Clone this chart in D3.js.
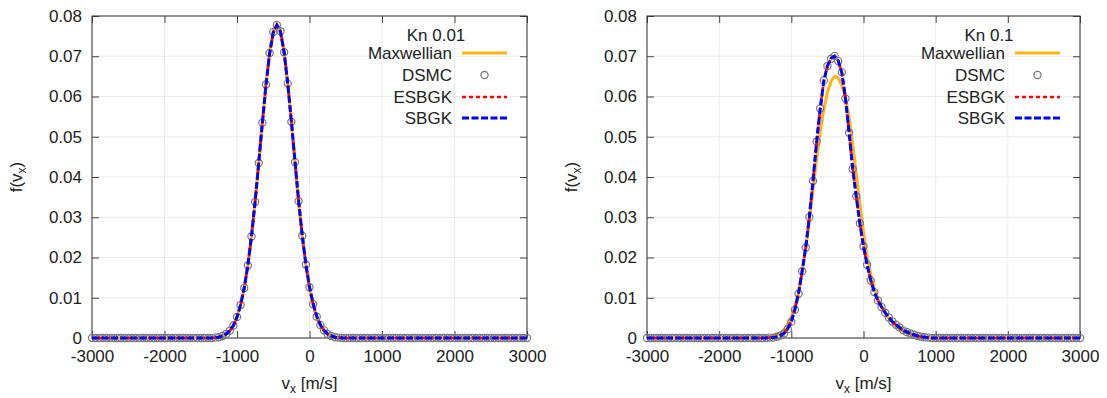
<!DOCTYPE html>
<html>
<head>
<meta charset="utf-8">
<script src="https://cdn.jsdelivr.net/npm/d3@7"></script>
<style>
  body { margin: 0; background: #fff; }
  text { font-family: "Liberation Sans", Arial, Helvetica, sans-serif; fill: #222; }
</style>
</head>
<body>
<script>
// velocity bins (m/s)
const vx = [
  -3000,-2950,-2900,-2850,-2800,-2750,-2700,-2650,-2600,-2550,
  -2500,-2450,-2400,-2350,-2300,-2250,-2200,-2150,-2100,-2050,
  -2000,-1950,-1900,-1850,-1800,-1750,-1700,-1650,-1600,-1550,
  -1500,-1450,-1400,-1350,-1300,-1250,-1200,-1150,-1100,-1050,
  -1000,-950,-900,-850,-800,-750,-700,-650,-600,-550,
  -500,-450,-400,-350,-300,-250,-200,-150,-100,-50,
  0,50,100,150,200,250,300,350,400,450,
  500,550,600,650,700,750,800,850,900,950,
  1000,1050,1100,1150,1200,1250,1300,1350,1400,1450,
  1500,1550,1600,1650,1700,1750,1800,1850,1900,1950,
  2000,2050,2100,2150,2200,2250,2300,2350,2400,2450,
  2500,2550,2600,2650,2700,2750,2800,2850,2900,2950,
  3000];

// Kn 0.01
const maxwell001 = [
  0,0,0,0,0,0,0,0,0,0,
  0,0,0,0,0,0,0,0,0,0,
  0,0,0,0,0,0,0,0,0,0,
  0,0,0,0,0.0001,0.0002,0.0005,0.0009,0.0017,0.0030,
  0.0051,0.0081,0.0123,0.0179,0.0251,0.0337,0.0435,0.0536,0.0632,0.0711,
  0.0764,0.0781,0.0764,0.0711,0.0632,0.0536,0.0435,0.0337,0.0251,0.0179,
  0.0123,0.0081,0.0051,0.0030,0.0017,0.0009,0.0005,0.0002,0.0001,0,
  0,0,0,0,0,0,0,0,0,0,
  0,0,0,0,0,0,0,0,0,0,
  0,0,0,0,0,0,0,0,0,0,
  0,0,0,0,0,0,0,0,0,0,
  0,0,0,0,0,0,0,0,0,0,
  0];
const dsmc001 = [
  0,0,0,0,0,0,0,0,0,0,
  0,0,0,0,0,0,0,0,0,0,
  0,0,0,0,0,0,0,0,0,0,
  0,0,0,0,0.0001,0.0002,0.0005,0.0010,0.0018,0.0031,
  0.0052,0.0082,0.0124,0.0180,0.0252,0.0338,0.0435,0.0535,0.0630,0.0708,
  0.0760,0.0778,0.0762,0.0710,0.0632,0.0537,0.0437,0.0340,0.0254,0.0182,
  0.0126,0.0084,0.0053,0.0032,0.0019,0.0010,0.0005,0.0002,0.0001,0,
  0,0,0,0,0,0,0,0,0,0,
  0,0,0,0,0,0,0,0,0,0,
  0,0,0,0,0,0,0,0,0,0,
  0,0,0,0,0,0,0,0,0,0,
  0,0,0,0,0,0,0,0,0,0,
  0];
const esbgk001 = [
  0,0,0,0,0,0,0,0,0,0,
  0,0,0,0,0,0,0,0,0,0,
  0,0,0,0,0,0,0,0,0,0,
  0,0,0,0,0.0001,0.0002,0.0005,0.0010,0.0018,0.0031,
  0.0052,0.0082,0.0125,0.0181,0.0253,0.0339,0.0436,0.0535,0.0629,0.0706,
  0.0758,0.0776,0.0761,0.0710,0.0633,0.0538,0.0438,0.0341,0.0255,0.0183,
  0.0127,0.0085,0.0054,0.0033,0.0019,0.0010,0.0005,0.0002,0.0001,0,
  0,0,0,0,0,0,0,0,0,0,
  0,0,0,0,0,0,0,0,0,0,
  0,0,0,0,0,0,0,0,0,0,
  0,0,0,0,0,0,0,0,0,0,
  0,0,0,0,0,0,0,0,0,0,
  0];
const sbgk001 = [
  0,0,0,0,0,0,0,0,0,0,
  0,0,0,0,0,0,0,0,0,0,
  0,0,0,0,0,0,0,0,0,0,
  0,0,0,0,0.0001,0.0002,0.0005,0.0010,0.0018,0.0031,
  0.0052,0.0083,0.0125,0.0181,0.0253,0.0339,0.0436,0.0535,0.0629,0.0707,
  0.0759,0.0777,0.0761,0.0709,0.0632,0.0538,0.0438,0.0341,0.0255,0.0183,
  0.0127,0.0085,0.0054,0.0033,0.0019,0.0010,0.0005,0.0002,0.0001,0,
  0,0,0,0,0,0,0,0,0,0,
  0,0,0,0,0,0,0,0,0,0,
  0,0,0,0,0,0,0,0,0,0,
  0,0,0,0,0,0,0,0,0,0,
  0,0,0,0,0,0,0,0,0,0,
  0];

// Kn 0.1
const maxwell01 = [
  0,0,0,0,0,0,0,0,0,0,
  0,0,0,0,0,0,0,0,0,0,
  0,0,0,0,0,0,0,0,0,0,
  0,0,0.0001,0.0002,0.0003,0.0005,0.0008,0.0013,0.0021,0.0034,
  0.0053,0.0080,0.0115,0.0163,0.0222,0.0292,0.0368,0.0443,0.0512,0.0568,
  0.0610,0.0638,0.0650,0.0646,0.0628,0.0598,0.0548,0.0482,0.0408,0.0334,
  0.0264,0.0203,0.0158,0.0123,0.0097,0.0078,0.0062,0.0049,0.0038,0.0029,
  0.0022,0.0016,0.0012,0.0009,0.0006,0.0004,0.0002,0.0001,0.0001,0,
  0,0,0,0,0,0,0,0,0,0,
  0,0,0,0,0,0,0,0,0,0,
  0,0,0,0,0,0,0,0,0,0,
  0,0,0,0,0,0,0,0,0,0,
  0];
const dsmc01 = [
  0,0,0,0,0,0,0,0,0,0,
  0,0,0,0,0,0,0,0,0,0,
  0,0,0,0,0,0,0,0,0,0,
  0,0,0,0,0.0001,0.0001,0.0003,0.0006,0.0011,0.0022,
  0.0040,0.0070,0.0110,0.0166,0.0225,0.0300,0.0390,0.0488,0.0570,0.0640,
  0.0676,0.0694,0.0701,0.0688,0.0660,0.0595,0.0510,0.0420,0.0352,0.0285,
  0.0228,0.0182,0.0143,0.0114,0.0093,0.0077,0.0063,0.0051,0.0041,0.0033,
  0.0026,0.0019,0.0015,0.0011,0.0008,0.0005,0.0003,0.0002,0.0001,0,
  0,0,0,0,0,0,0,0,0,0,
  0,0,0,0,0,0,0,0,0,0,
  0,0,0,0,0,0,0,0,0,0,
  0,0,0,0,0,0,0,0,0,0,
  0];
const esbgk01 = [
  0,0,0,0,0,0,0,0,0,0,
  0,0,0,0,0,0,0,0,0,0,
  0,0,0,0,0,0,0,0,0,0,
  0,0,0,0,0.0001,0.0001,0.0003,0.0006,0.0012,0.0023,
  0.0041,0.0071,0.0111,0.0166,0.0226,0.0301,0.0390,0.0487,0.0569,0.0638,
  0.0675,0.0694,0.0700,0.0689,0.0659,0.0596,0.0511,0.0421,0.0351,0.0284,
  0.0228,0.0181,0.0143,0.0114,0.0093,0.0077,0.0063,0.0051,0.0041,0.0033,
  0.0026,0.0019,0.0015,0.0011,0.0008,0.0005,0.0003,0.0002,0.0001,0,
  0,0,0,0,0,0,0,0,0,0,
  0,0,0,0,0,0,0,0,0,0,
  0,0,0,0,0,0,0,0,0,0,
  0,0,0,0,0,0,0,0,0,0,
  0];
const sbgk01 = [
  0,0,0,0,0,0,0,0,0,0,
  0,0,0,0,0,0,0,0,0,0,
  0,0,0,0,0,0,0,0,0,0,
  0,0,0,0,0.0001,0.0001,0.0003,0.0006,0.0012,0.0023,
  0.0041,0.0071,0.0111,0.0167,0.0226,0.0301,0.0391,0.0487,0.0569,0.0639,
  0.0676,0.0695,0.0700,0.0689,0.0659,0.0595,0.0511,0.0421,0.0351,0.0284,
  0.0228,0.0181,0.0143,0.0114,0.0093,0.0077,0.0063,0.0051,0.0041,0.0033,
  0.0026,0.0019,0.0015,0.0011,0.0008,0.0005,0.0003,0.0002,0.0001,0,
  0,0,0,0,0,0,0,0,0,0,
  0,0,0,0,0,0,0,0,0,0,
  0,0,0,0,0,0,0,0,0,0,
  0,0,0,0,0,0,0,0,0,0,
  0];

const xTicks = [-3000, -2000, -1000, 0, 1000, 2000, 3000];
const yTicks = [0, 0.01, 0.02, 0.03, 0.04, 0.05, 0.06, 0.07, 0.08];
const legendNames = ["Maxwellian", "DSMC", "ESBGK", "SBGK"];

const W = 1107, H = 398;
const svg = d3.select("body").append("svg")
  .attr("width", W).attr("height", H);
svg.append("rect").attr("width", W).attr("height", H).attr("fill", "#fff");

const panels = [
  { title: "Kn 0.01", x0: 92, x1: 527, maxwell: maxwell001, dsmc: dsmc001, esbgk: esbgk001, sbgk: sbgk001 },
  { title: "Kn 0.1", x0: 647, x1: 1080, maxwell: maxwell01, dsmc: dsmc01, esbgk: esbgk01, sbgk: sbgk01 }
];
const plotTop = 16, plotBottom = 338;
const fs = "17px";

function drawPanel(p) {
  const x = d3.scaleLinear().domain([-3000, 3000]).range([p.x0, p.x1]);
  const y = d3.scaleLinear().domain([0, 0.08]).range([plotBottom, plotTop]);
  const g = svg.append("g");

  // grid
  g.selectAll(".gx").data(xTicks).enter().append("line")
    .attr("x1", d => x(d)).attr("x2", d => x(d))
    .attr("y1", plotTop).attr("y2", plotBottom)
    .attr("stroke", "#ececec").attr("stroke-width", 1);
  g.selectAll(".gy").data(yTicks).enter().append("line")
    .attr("x1", p.x0).attr("x2", p.x1)
    .attr("y1", d => y(d)).attr("y2", d => y(d))
    .attr("stroke", "#ececec").attr("stroke-width", 1);

  // axes, ticks pointing inward
  const ax = [
    g.append("g").attr("transform", "translate(0," + plotBottom + ")")
      .call(d3.axisBottom(x).tickValues(xTicks).tickSize(-7).tickPadding(12).tickFormat(d => String(d))),
    g.append("g").attr("transform", "translate(0," + plotTop + ")")
      .call(d3.axisTop(x).tickValues(xTicks).tickSize(-7).tickFormat("")),
    g.append("g").attr("transform", "translate(" + p.x0 + ",0)")
      .call(d3.axisLeft(y).tickValues(yTicks).tickSize(-7).tickPadding(10).tickFormat(d => d === 0 ? "0" : d.toFixed(2))),
    g.append("g").attr("transform", "translate(" + p.x1 + ",0)")
      .call(d3.axisRight(y).tickValues(yTicks).tickSize(-7).tickFormat(""))
  ];
  ax.forEach(a => {
    a.select(".domain").remove();
    a.selectAll(".tick line").attr("stroke", "#444");
    a.selectAll(".tick text").attr("fill", "#222")
      .style("font-size", fs)
      .style("font-family", "'Liberation Sans', Arial, sans-serif");
  });

  g.append("rect")
    .attr("x", p.x0).attr("y", plotTop)
    .attr("width", p.x1 - p.x0).attr("height", plotBottom - plotTop)
    .attr("fill", "none").attr("stroke", "#333").attr("stroke-width", 1);

  // axis titles
  const cx = (p.x0 + p.x1) / 2;
  const xt = g.append("text").attr("x", cx).attr("y", 389)
    .attr("text-anchor", "middle").style("font-size", fs);
  xt.append("tspan").text("v");
  xt.append("tspan").attr("dy", 4).style("font-size", "12px").text("x");
  xt.append("tspan").attr("dy", -4).text(" [m/s]");

  const yt = g.append("text")
    .attr("transform", "translate(" + (p.x0 - 70) + "," + ((plotTop + plotBottom) / 2) + ") rotate(-90)")
    .attr("text-anchor", "middle").style("font-size", fs);
  yt.append("tspan").text("f(v");
  yt.append("tspan").attr("dy", 4).style("font-size", "12px").text("x");
  yt.append("tspan").attr("dy", -4).text(")");

  const pts = (arr) => vx.map((v, i) => [v, arr[i]]);
  const line = d3.line().x(d => x(d[0])).y(d => y(d[1]));

  g.append("path").datum(pts(p.maxwell)).attr("d", line)
    .attr("fill", "none").attr("stroke", "#ffb411").attr("stroke-width", 3);

  g.selectAll(".dsmc").data(pts(p.dsmc)).enter().append("circle")
    .attr("cx", d => x(d[0])).attr("cy", d => y(d[1])).attr("r", 3.6)
    .attr("fill", "none").attr("stroke", "#777").attr("stroke-width", 1.2);

  g.append("path").datum(pts(p.esbgk)).attr("d", line)
    .attr("fill", "none").attr("stroke", "#ff0000").attr("stroke-width", 2.6)
    .attr("stroke-dasharray", "4,3");

  g.append("path").datum(pts(p.sbgk)).attr("d", line)
    .attr("fill", "none").attr("stroke", "#0000ff").attr("stroke-width", 3)
    .attr("stroke-dasharray", "7,2.5");

  // legend
  const lx = p.x1 - 75;   // right edge of legend labels
  const sx0 = p.x1 - 65, sx1 = p.x1 - 20;
  g.append("text").attr("x", lx - 16).attr("y", 35).attr("dy", "0.35em")
    .attr("text-anchor", "middle").style("font-size", fs).text(p.title);
  const rows = [53, 75, 97, 118];
  legendNames.forEach((name, i) => {
    g.append("text").attr("x", lx).attr("y", rows[i]).attr("dy", "0.35em")
      .attr("text-anchor", "end").style("font-size", fs).text(name);
  });
  g.append("line").attr("x1", sx0).attr("x2", sx1).attr("y1", rows[0]).attr("y2", rows[0])
    .attr("stroke", "#ffb411").attr("stroke-width", 3);
  g.append("circle").attr("cx", (sx0 + sx1) / 2).attr("cy", rows[1]).attr("r", 3.6)
    .attr("fill", "none").attr("stroke", "#777").attr("stroke-width", 1.2);
  g.append("line").attr("x1", sx0).attr("x2", sx1).attr("y1", rows[2]).attr("y2", rows[2])
    .attr("stroke", "#ff0000").attr("stroke-width", 2.6).attr("stroke-dasharray", "4,3");
  g.append("line").attr("x1", sx0).attr("x2", sx1).attr("y1", rows[3]).attr("y2", rows[3])
    .attr("stroke", "#0000ff").attr("stroke-width", 3).attr("stroke-dasharray", "7,2.5");
}

panels.forEach(drawPanel);
</script>
</body>
</html>
